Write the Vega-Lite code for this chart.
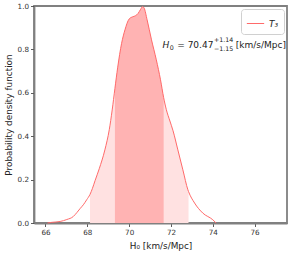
{
  "$schema": "https://vega.github.io/schema/vega-lite/v6.json",
  "width": 253,
  "height": 217,
  "autosize": {"type": "none"},
  "padding": {"left": 34, "top": 6, "right": 5, "bottom": 31},
  "background": "white",
  "config": {
    "font": "DejaVu Sans",
    "view": {"stroke": "#808080", "strokeWidth": 1.8},
    "axis": {
      "grid": false,
      "domainColor": "#808080",
      "domainWidth": 1.8,
      "tickColor": "#333333",
      "tickSize": 3.5,
      "tickWidth": 0.8,
      "labelFont": "DejaVu Sans",
      "labelFontSize": 7.2,
      "labelColor": "#333333",
      "labelPadding": 2,
      "titleFont": "DejaVu Sans",
      "titleFontSize": 8.9,
      "titleFontWeight": "normal",
      "titleColor": "#222222"
    }
  },
  "datasets": {
    "pdf": [
      {"x": 66.1, "y": 0.0},
      {"x": 66.3, "y": 0.003},
      {"x": 66.7, "y": 0.007},
      {"x": 67.02, "y": 0.016},
      {"x": 67.33, "y": 0.03},
      {"x": 67.5, "y": 0.048},
      {"x": 67.65, "y": 0.066},
      {"x": 67.81, "y": 0.084},
      {"x": 67.97, "y": 0.107},
      {"x": 68.13, "y": 0.132},
      {"x": 68.24, "y": 0.158},
      {"x": 68.37, "y": 0.195},
      {"x": 68.57, "y": 0.25},
      {"x": 68.84, "y": 0.337},
      {"x": 69.05, "y": 0.43},
      {"x": 69.19, "y": 0.521},
      {"x": 69.32, "y": 0.62},
      {"x": 69.45, "y": 0.715},
      {"x": 69.64, "y": 0.828},
      {"x": 69.8, "y": 0.89},
      {"x": 70.0, "y": 0.94},
      {"x": 70.19, "y": 0.951},
      {"x": 70.3, "y": 0.955},
      {"x": 70.43, "y": 0.966},
      {"x": 70.55, "y": 0.985},
      {"x": 70.64, "y": 0.997},
      {"x": 70.72, "y": 0.99},
      {"x": 70.86, "y": 0.936},
      {"x": 71.07, "y": 0.844},
      {"x": 71.3, "y": 0.752},
      {"x": 71.5, "y": 0.66},
      {"x": 71.65, "y": 0.578},
      {"x": 71.78, "y": 0.522},
      {"x": 71.95, "y": 0.47},
      {"x": 72.1, "y": 0.425},
      {"x": 72.33, "y": 0.337},
      {"x": 72.57, "y": 0.245},
      {"x": 72.81, "y": 0.153},
      {"x": 72.84, "y": 0.145},
      {"x": 73.13, "y": 0.092},
      {"x": 73.52, "y": 0.046},
      {"x": 74.0, "y": 0.015},
      {"x": 74.16, "y": 0.0}
    ],
    "main": [
      {"x": 72.3, "y": 0.8205, "text": "= 70.47"},
      {"x": 75.1, "y": 0.8205, "text": "[km/s/Mpc]"}
    ],
    "italic": [
      {"x": 71.6, "y": 0.8205, "text": "H"}
    ],
    "small": [
      {"x": 71.94, "y": 0.805, "text": "0"},
      {"x": 74.06, "y": 0.843, "text": "+1.14"},
      {"x": 74.06, "y": 0.801, "text": "−1.15"}
    ]
  },
  "encoding": {
    "x": {
      "field": "x",
      "type": "quantitative",
      "scale": {"domain": [65.45, 77.55], "nice": false, "zero": false},
      "axis": {"values": [66, 68, 70, 72, 74, 76], "title": "H₀ [km/s/Mpc]", "titlePadding": 6}
    },
    "y": {
      "field": "y",
      "type": "quantitative",
      "scale": {"domain": [0, 1], "nice": false},
      "axis": {"values": [0, 0.2, 0.4, 0.6, 0.8, 1.0], "format": ".1f", "title": "Probability density function", "titlePadding": 4}
    }
  },
  "layer": [
    {
      "data": {"name": "pdf"},
      "transform": [{"filter": {"field": "x", "range": [68.13, 72.84]}}],
      "mark": {"type": "area", "color": "#ffe1e1", "opacity": 1, "interpolate": "monotone"}
    },
    {
      "data": {"name": "pdf"},
      "transform": [{"filter": {"field": "x", "range": [69.32, 71.65]}}],
      "mark": {"type": "area", "color": "#ffb3b3", "opacity": 1, "interpolate": "monotone"}
    },
    {
      "data": {"name": "pdf"},
      "mark": {"type": "line", "strokeWidth": 1, "interpolate": "monotone"},
      "encoding": {
        "color": {
          "datum": "T₃",
          "type": "nominal",
          "scale": {"range": ["#ff6a6a"]},
          "legend": {
            "title": null,
            "orient": "top-right",
            "offset": 3,
            "fillColor": "white",
            "strokeColor": "#d0d0d0",
            "cornerRadius": 3,
            "padding": 5,
            "symbolType": "stroke",
            "symbolSize": 300,
            "symbolStrokeWidth": 1,
            "labelFont": "DejaVu Sans",
            "labelFontSize": 9,
            "labelFontStyle": "italic",
            "labelColor": "#222222"
          }
        }
      }
    },
    {
      "data": {"name": "main"},
      "mark": {"type": "text", "align": "left", "baseline": "middle", "fontSize": 9, "color": "#222222", "font": "DejaVu Sans"},
      "encoding": {"text": {"field": "text"}}
    },
    {
      "data": {"name": "italic"},
      "mark": {"type": "text", "align": "left", "baseline": "middle", "fontSize": 9, "fontStyle": "italic", "color": "#222222", "font": "DejaVu Sans"},
      "encoding": {"text": {"field": "text"}}
    },
    {
      "data": {"name": "small"},
      "mark": {"type": "text", "align": "left", "baseline": "middle", "fontSize": 6.3, "color": "#222222", "font": "DejaVu Sans"},
      "encoding": {"text": {"field": "text"}}
    }
  ]
}
